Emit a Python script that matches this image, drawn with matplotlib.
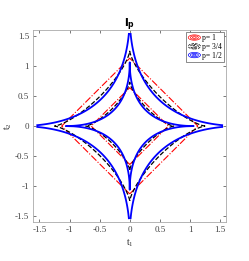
import numpy as np
import matplotlib
matplotlib.use("Agg")
import matplotlib.pyplot as plt
from matplotlib.legend_handler import HandlerBase
from matplotlib.patches import Ellipse
from matplotlib.lines import Line2D

# data
p_values = [1.0, 0.75, 0.5]
p_labels = ["p= 1", "p= 3/4", "p= 1/2"]
levels_p1 = [0.64, 1.13]
levels_p34 = [0.79, 1.18]
levels_p12 = [1.03, 1.36]
grid_limit = 1.55
xticks = [-1.5, -1, -0.5, 0, 0.5, 1, 1.5]
tick_labels = ["-1.5", "-1", "-0.5", "0", "0.5", "1", "1.5"]

colors = ["red", "black", "blue"]
styles = ["-.", "--", "-"]
widths = [0.8, 0.9, 1.3]

plt.rcParams['font.family'] = ['Liberation Serif', 'DejaVu Serif']

fig = plt.figure(figsize=(2.49, 2.61), dpi=100)
ax = fig.add_axes([0.134, 0.149, 0.774, 0.736])

t = np.linspace(-grid_limit, grid_limit, 801)
T1, T2 = np.meshgrid(t, t)
for p, lev, c, ls, lw in zip(p_values, [levels_p1, levels_p34, levels_p12], colors, styles, widths):
    Z = np.abs(T1) ** p + np.abs(T2) ** p
    ax.contour(T1, T2, Z, levels=lev, colors=c, linestyles=ls, linewidths=lw)

ax.set_xlim(-1.6, 1.6)
ax.set_ylim(-1.6, 1.6)
ax.set_xticks(xticks)
ax.set_xticklabels(tick_labels)
ax.set_yticks(xticks)
ax.set_yticklabels(tick_labels)
ax.tick_params(direction='in', length=2, width=0.5, labelsize=6.5, colors='#444444',
               top=True, right=True, pad=3)
for s in ax.spines.values():
    s.set_color('#aaaaaa')
    s.set_linewidth(0.6)
ax.set_xlabel(r"$\mathregular{t_1}$", fontsize=7, labelpad=2, color='#333333')
ax.set_ylabel(r"$\mathregular{t_2}$", fontsize=7, labelpad=1, color='#333333')
ax.set_title(r"$\mathbf{l_p}$", fontsize=8, pad=2)


class ContourHandler(HandlerBase):
    def __init__(self, color, ls):
        super().__init__()
        self.color = color
        self.ls = ls

    def create_artists(self, legend, orig_handle, xdescent, ydescent, width, height, fontsize, trans):
        arts = []
        cx, cy = width / 2 - xdescent, height / 2 - ydescent
        for f in [1.0, 0.65, 0.3]:
            e = Ellipse((cx, cy), width * f, height * 1.0 * f, fill=False,
                        edgecolor=self.color, linestyle=self.ls, linewidth=0.5, transform=trans)
            arts.append(e)
        return arts


handles = [Line2D([], [], color=c, linestyle=ls) for c, ls in zip(colors, styles)]
hmap = {h: ContourHandler(c, ls) for h, c, ls in zip(handles, colors, ['-', '--', '-'])}
leg = ax.legend(handles, p_labels, loc='upper right', fontsize=5.5, handler_map=hmap,
                handlelength=1.6, handletextpad=0.2, borderpad=0.25, labelspacing=0.1,
                fancybox=False, framealpha=1, edgecolor='#777777', borderaxespad=0.3)
leg.get_frame().set_linewidth(0.6)

fig.savefig("out.png", dpi=100)
